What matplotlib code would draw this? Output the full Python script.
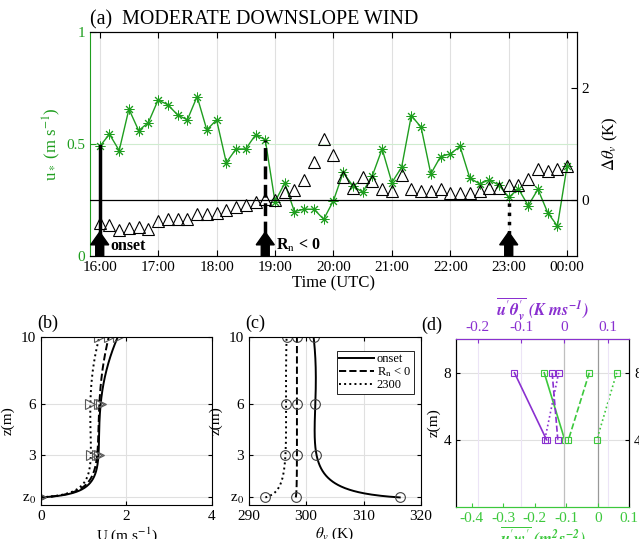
import numpy as np
import matplotlib
matplotlib.use('Agg')
import matplotlib.pyplot as plt
from matplotlib.patches import FancyArrow

plt.rcParams['font.family'] = ['Liberation Serif', 'DejaVu Serif']
plt.rcParams['mathtext.fontset'] = 'stix'
plt.rcParams['xtick.direction'] = 'in'
plt.rcParams['ytick.direction'] = 'in'
plt.rcParams['font.size'] = 10

GREEN = '#1f9e1f'
LGREEN = '#3cc83c'
PURPLE = '#8a30d0'

# ---- (a) time series, every 10 min from 16:00 to 00:00 ----
hours = 16 + np.arange(49) / 6.0
ustar = [0.489, 0.544, 0.471, 0.656, 0.560, 0.596,
         0.697, 0.675, 0.630, 0.608, 0.712, 0.563,
         0.608, 0.417, 0.478, 0.478, 0.541, 0.519,
         0.243, 0.325, 0.198, 0.209, 0.209, 0.164,
         0.247, 0.373, 0.313, 0.285, 0.359, 0.478,
         0.328, 0.396, 0.627, 0.575, 0.367, 0.444,
         0.456, 0.489, 0.349, 0.322, 0.340, 0.316,
         0.262, 0.300, 0.225, 0.298, 0.194, 0.134,
         0.404]
dtheta = [-0.417, -0.44, -0.536, -0.5, -0.476, -0.524,
          -0.369, -0.345, -0.345, -0.333, -0.25, -0.25,
          -0.226, -0.179, -0.119, -0.095, -0.036, 0.024,
          0.0, 0.143, 0.179, 0.363, 0.679, 1.095,
          0.81, 0.417, 0.214, 0.417, 0.333, 0.19,
          0.167, 0.44, 0.19, 0.155, 0.155, 0.19,
          0.119, 0.131, 0.131, 0.167, 0.214, 0.214,
          0.274, 0.274, 0.369, 0.554, 0.512, 0.554,
          0.607]
hour_ticks = [16, 17, 18, 19, 20, 21, 22, 23, 24]
hour_labels = ['16:00', '17:00', '18:00', '19:00', '20:00', '21:00', '22:00', '23:00', '00:00']
event_times = [16.0, 18 + 50 / 60, 23.0]
event_styles = ['-', '--', ':']

# ---- (b), (c) profiles ----
z_lev = [10, 6, 3]
z0 = 0.45
U_onset = [1.80, 1.40, 1.35]
U_rn = [1.59, 1.37, 1.32]
U_2300 = [1.37, 1.16, 1.17]
th_onset = [301.3, 301.6, 301.8]
th_rn = [298.4, 298.4, 298.4]
th_2300 = [296.6, 296.5, 296.4]
th0 = [316.3, 298.2, 292.9]

# ---- (d) fluxes ----
z_flux = [8, 4]
uw_onset = [-0.170, -0.105]
uw_rn = [-0.027, -0.093]
uw_2300 = [0.060, -0.003]
ut_onset = [-0.115, -0.041]
ut_rn = [-0.028, -0.015]
ut_2300 = [-0.013, -0.045]


def profile_fit(zp, vp, v0, zz, r=0.05):
    # log + quadratic fit through the measured levels, anchored at z0
    zp = np.asarray(zp, float)
    L = lambda z: np.log((z - z0 + r) / r)
    A = np.column_stack([L(zp), zp - z0, (zp - z0) ** 2])
    coef = np.linalg.lstsq(A, np.asarray(vp) - v0, rcond=None)[0]
    B = np.column_stack([L(zz), zz - z0, (zz - z0) ** 2])
    return v0 + B @ coef


fig = plt.figure(figsize=(6.39, 5.39), dpi=100)

# ================= (a) =================
ax1 = fig.add_axes([0.1408, 0.525, 0.762, 0.4156])
ax1.set_xlim(15 + 50 / 60, 24 + 10 / 60)
ax1.set_ylim(0, 1)
ax1.set_xticks(hour_ticks)
ax1.set_xticklabels(hour_labels, fontsize=11)
ax1.set_yticks([0, 0.5, 1])
ax1.set_yticklabels(['0', '0.5', '1'], fontsize=11)
ax1.tick_params(axis='y', colors=GREEN, right=True, length=4)
ax1.tick_params(axis='x', top=True, length=4)
ax1.spines['left'].set_color(GREEN)
for h in hour_ticks:
    ax1.axvline(h, color='0.88', lw=0.8, zorder=0)
ax1.axhline(0.5, color='#cfeccf', lw=0.8, zorder=0)
ax1.plot(hours, ustar, '-', color=GREEN, lw=1, marker=(8, 2, 0), ms=7, mew=0.7, zorder=3)
ax1.set_ylabel(r'u$_*$ (m s$^{-1}$)', color=GREEN, fontsize=12, labelpad=2)
ax1.set_xlabel('Time (UTC)', fontsize=12, labelpad=1)

for t, ls in zip(event_times, event_styles):
    idx = int(round((t - 16) * 6))
    ax1.plot([t, t], [0.1, ustar[idx]], color='k', ls=ls, lw=2.5, zorder=4)
    ax1.add_patch(FancyArrow(t, 0, 0, 0.107, width=0.137, head_width=0.31,
                             head_length=0.057, length_includes_head=True,
                             color='k', zorder=5))
ax1.text(16.19, 0.045, 'onset', fontsize=11.5, fontweight='bold', va='center')
ax1.text(19.02, 0.045, r'R$_{\rm n}$ < 0', fontsize=11.5, fontweight='bold', va='center')
ax1.text(0.0, 1.012, '(a)  MODERATE DOWNSLOPE WIND', transform=ax1.transAxes,
         fontsize=14.4, ha='left', va='bottom')

ax2 = ax1.twinx()
ax2.set_ylim(-1, 3)
ax2.set_yticks([0, 2])
ax2.set_yticklabels(['0', '2'], fontsize=11)
ax2.tick_params(axis='y', length=4)
ax2.axhline(0, color='k', lw=0.9, zorder=1)
ax2.plot(hours, dtheta, ls='none', marker='^', ms=9, mfc='none', mec='k', mew=0.8)
ax2.set_ylabel(r'$\Delta\theta_v$ (K)', fontsize=12, labelpad=8)
ax2.spines['left'].set_visible(False)

# ================= (b) =================
zz = np.linspace(z0, 10, 400)
axb = fig.add_axes([0.0637, 0.0631, 0.268, 0.3117])
for U, ls in zip([U_onset, U_rn, U_2300], event_styles):
    axb.plot(profile_fit(z_lev, U, 0.0, zz, r=0.08), zz, color='k', ls=ls, lw=1.4)
    axb.plot(U + [0.0], z_lev + [z0], ls='none', marker='>', ms=7,
             mfc='none', mec='0.35', mew=0.8)
axb.set_xlim(0, 4)
axb.set_ylim(0, 10)
axb.set_xticks([0, 2, 4])
axb.set_yticks([z0, 3, 6, 10])
axb.set_yticklabels([r'z$_0$', '3', '6', '10'])
axb.grid(color='0.88', lw=0.8)
axb.tick_params(top=True, right=True, length=3, labelsize=11)
axb.set_xlabel(r'U (m s$^{-1}$)', fontsize=11, labelpad=2)
axb.set_ylabel('z(m)', fontsize=11)
axb.text(-0.02, 1.03, '(b)', transform=axb.transAxes, fontsize=13, ha='left', va='bottom')

# ================= (c) =================
axc = fig.add_axes([0.3892, 0.0631, 0.2696, 0.3117])
names = ['onset', r'R$_{\rm n}$ < 0', '2300']
for th, t0, ls, nm in zip([th_onset, th_rn, th_2300], th0, event_styles, names):
    axc.plot(profile_fit(z_lev, th, t0, zz, r=0.15), zz, color='k', ls=ls, lw=1.4, label=nm)
    axc.plot(th + [t0], z_lev + [z0], ls='none', marker='o', ms=7,
             mfc='none', mec='0.25', mew=0.8)
axc.set_xlim(290, 320)
axc.set_ylim(0, 10)
axc.set_xticks([290, 300, 310, 320])
axc.set_yticks([z0, 3, 6, 10])
axc.set_yticklabels([r'z$_0$', '3', '6', '10'])
axc.grid(color='0.88', lw=0.8)
axc.tick_params(top=True, right=True, length=3, labelsize=11)
axc.set_xlabel(r'$\theta_v$ (K)', fontsize=11, labelpad=2)
axc.set_ylabel('z(m)', fontsize=11)
axc.text(-0.02, 1.03, '(c)', transform=axc.transAxes, fontsize=13, ha='left', va='bottom')
leg = axc.legend(loc='upper right', fontsize=9, handlelength=2.8, handletextpad=0.2,
                 borderpad=0.2, labelspacing=0.0, borderaxespad=0.3, fancybox=False,
                 framealpha=1, bbox_to_anchor=(0.98, 0.94))
leg.get_frame().set_edgecolor('k')
leg.get_frame().set_linewidth(0.6)

# ================= (d) =================
axd = fig.add_axes([0.7136, 0.0599, 0.2712, 0.3106])
for uw, ls in zip([uw_onset, uw_rn, uw_2300], event_styles):
    axd.plot(uw, z_flux, color=LGREEN, ls=ls, lw=1.2, marker='s', ms=5,
             mfc='none', mec=LGREEN, mew=0.8, zorder=3)
axd.set_xlim(-0.45, 0.1)
axd.set_ylim(0, 10)
axd.set_xticks([-0.4, -0.3, -0.2, -0.1, 0, 0.1])
axd.set_xticklabels(['-0.4', '-0.3', '-0.2', '-0.1', '0', '0.1'])
axd.set_yticks([4, 8])
axd.axhline(4, color='0.88', lw=0.8, zorder=0)
axd.axhline(8, color='0.88', lw=0.8, zorder=0)
axd.axvline(0, color='0.6', lw=0.9, zorder=1)
axd.tick_params(axis='x', colors=LGREEN, length=3, labelsize=11)
axd.tick_params(axis='y', right=True, labelright=True, length=3, labelsize=11)
axd.spines['bottom'].set_color(LGREEN)
axd.set_xlabel(r"$\overline{\mathbfit{u}'\mathbfit{w}'}\ \mathbfit{(m^2s^{-2})}$",
               color=LGREEN, fontsize=12, labelpad=0)
axd.set_ylabel('z(m)', fontsize=11, labelpad=2)
axd.text(-0.2, 1.03, '(d)', transform=axd.transAxes, fontsize=13, ha='left', va='bottom')

axt = axd.twiny()
for ut, ls in zip([ut_onset, ut_rn, ut_2300], event_styles):
    axt.plot(ut, z_flux, color=PURPLE, ls=ls, lw=1.2, marker='s', ms=5,
             mfc='none', mec=PURPLE, mew=0.8, zorder=3)
axt.set_xlim(-0.25, 0.15)
axt.set_xticks([-0.2, -0.1, 0, 0.1])
axt.set_xticklabels(['-0.2', '-0.1', '0', '0.1'])
for v in [-0.2, -0.1, 0.1]:
    axt.axvline(v, color='#ece4f6', lw=0.8, zorder=0)
axt.axvline(0, color='0.75', lw=0.9, zorder=1)
axt.tick_params(axis='x', colors=PURPLE, length=3, labelsize=11)
axt.spines['top'].set_color(PURPLE)
axt.spines['bottom'].set_color(LGREEN)
axt.set_xlabel(r"$\overline{\mathbfit{u}'\mathbfit{\theta}_{\mathbfit{v}}'}\ \mathbfit{(K\ ms^{-1})}$",
               color=PURPLE, fontsize=12, labelpad=4)

fig.savefig('out.png', dpi=100)
